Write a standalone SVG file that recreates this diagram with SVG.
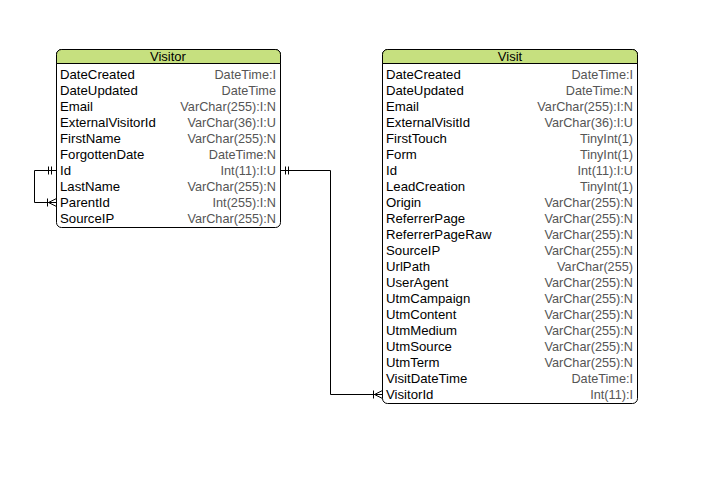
<svg xmlns="http://www.w3.org/2000/svg" width="711" height="482" viewBox="0 0 711 482">
<style>
.box{fill:#fff;stroke:#000;stroke-width:1}
.hd{fill:#c6e07f;stroke:#000;stroke-width:1}
.t{font-family:"Liberation Sans",Arial,sans-serif;font-size:12.7px}
.n{fill:#000;font-size:13.2px}
.ty{fill:#555;text-anchor:end}
.title{text-anchor:middle;fill:#000;font-size:13px}
.c{fill:none;stroke:#000;stroke-width:1}
</style>
<rect width="711" height="482" fill="#fff"/>
<g id="visitor">
<rect class="box" x="56.5" y="49.5" width="224" height="178" rx="5"/>
<path class="hd" d="M56.5,63.5 V54.5 a5,5 0 0 1 5,-5 H275.5 a5,5 0 0 1 5,5 V63.5 Z"/>
<text class="t title" x="168" y="61">Visitor</text>
<g class="t">
<text class="n" x="60" y="79">DateCreated</text><text class="ty" x="276" y="79">DateTime:I</text>
<text class="n" x="60" y="95">DateUpdated</text><text class="ty" x="276" y="95">DateTime</text>
<text class="n" x="60" y="111">Email</text><text class="ty" x="276" y="111">VarChar(255):I:N</text>
<text class="n" x="60" y="127">ExternalVisitorId</text><text class="ty" x="276" y="127">VarChar(36):I:U</text>
<text class="n" x="60" y="143">FirstName</text><text class="ty" x="276" y="143">VarChar(255):N</text>
<text class="n" x="60" y="159">ForgottenDate</text><text class="ty" x="276" y="159">DateTime:N</text>
<text class="n" x="60" y="175">Id</text><text class="ty" x="276" y="175">Int(11):I:U</text>
<text class="n" x="60" y="191">LastName</text><text class="ty" x="276" y="191">VarChar(255):N</text>
<text class="n" x="60" y="207">ParentId</text><text class="ty" x="276" y="207">Int(255):I:N</text>
<text class="n" x="60" y="223">SourceIP</text><text class="ty" x="276" y="223">VarChar(255):N</text>
</g>
</g>
<g id="visit">
<rect class="box" x="382.5" y="49.5" width="255" height="354" rx="5"/>
<path class="hd" d="M382.5,63.5 V54.5 a5,5 0 0 1 5,-5 H632.5 a5,5 0 0 1 5,5 V63.5 Z"/>
<text class="t title" x="510" y="61">Visit</text>
<g class="t">
<text class="n" x="386" y="79">DateCreated</text><text class="ty" x="633" y="79">DateTime:I</text>
<text class="n" x="386" y="95">DateUpdated</text><text class="ty" x="633" y="95">DateTime:N</text>
<text class="n" x="386" y="111">Email</text><text class="ty" x="633" y="111">VarChar(255):I:N</text>
<text class="n" x="386" y="127">ExternalVisitId</text><text class="ty" x="633" y="127">VarChar(36):I:U</text>
<text class="n" x="386" y="143">FirstTouch</text><text class="ty" x="633" y="143">TinyInt(1)</text>
<text class="n" x="386" y="159">Form</text><text class="ty" x="633" y="159">TinyInt(1)</text>
<text class="n" x="386" y="175">Id</text><text class="ty" x="633" y="175">Int(11):I:U</text>
<text class="n" x="386" y="191">LeadCreation</text><text class="ty" x="633" y="191">TinyInt(1)</text>
<text class="n" x="386" y="207">Origin</text><text class="ty" x="633" y="207">VarChar(255):N</text>
<text class="n" x="386" y="223">ReferrerPage</text><text class="ty" x="633" y="223">VarChar(255):N</text>
<text class="n" x="386" y="239">ReferrerPageRaw</text><text class="ty" x="633" y="239">VarChar(255):N</text>
<text class="n" x="386" y="255">SourceIP</text><text class="ty" x="633" y="255">VarChar(255):N</text>
<text class="n" x="386" y="271">UrlPath</text><text class="ty" x="633" y="271">VarChar(255)</text>
<text class="n" x="386" y="287">UserAgent</text><text class="ty" x="633" y="287">VarChar(255):N</text>
<text class="n" x="386" y="303">UtmCampaign</text><text class="ty" x="633" y="303">VarChar(255):N</text>
<text class="n" x="386" y="319">UtmContent</text><text class="ty" x="633" y="319">VarChar(255):N</text>
<text class="n" x="386" y="335">UtmMedium</text><text class="ty" x="633" y="335">VarChar(255):N</text>
<text class="n" x="386" y="351">UtmSource</text><text class="ty" x="633" y="351">VarChar(255):N</text>
<text class="n" x="386" y="367">UtmTerm</text><text class="ty" x="633" y="367">VarChar(255):N</text>
<text class="n" x="386" y="383">VisitDateTime</text><text class="ty" x="633" y="383">DateTime:I</text>
<text class="n" x="386" y="399">VisitorId</text><text class="ty" x="633" y="399">Int(11):I</text>
</g>
</g>
<g id="connectors">
<path class="c" d="M280.5,170.5 H330.5 V394.5 H382.5"/>
<path class="c" d="M285.5,166.5 v8 M288.5,166.5 v8"/>
<path class="c" d="M373.5,390.5 v8 M382.5,390.5 L374.5,394.5 L382.5,398.5"/>
<path class="c" d="M56.5,170.5 H34.5 V202.5 H56.5"/>
<path class="c" d="M48.5,166.5 v8 M51.5,166.5 v8"/>
<path class="c" d="M47.5,198.5 v8 M56.5,198.5 L48.5,202.5 L56.5,206.5"/>
</g>
</svg>
